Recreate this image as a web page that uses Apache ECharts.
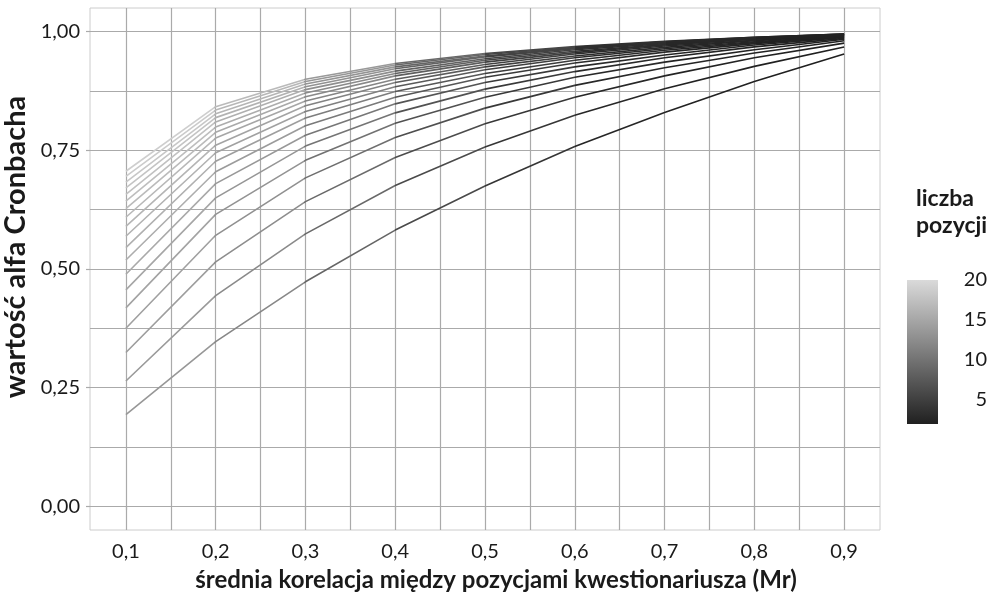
<!DOCTYPE html>
<html>
<head>
<meta charset="utf-8">
<script src="https://cdn.jsdelivr.net/npm/echarts@6/dist/echarts.min.js"></script>
<style>
  html, body { margin: 0; padding: 0; background: #fff; }
  #chart { width: 996px; height: 597px; }
</style>
</head>
<body>
<div id="chart"></div>
<script>
// srednia korelacja (Mr) na osi x
var korelacje = [0.1, 0.2, 0.3, 0.4, 0.5, 0.6, 0.7, 0.8, 0.9];
var liczbaPozycji = [2, 3, 4, 5, 6, 7, 8, 9, 10, 11, 12, 13, 14, 15, 16, 17, 18, 19, 20];

// wartosc alfa, jeden wiersz na liczbe pozycji
var alfa = [
  [0.193, 0.347, 0.473, 0.582, 0.675, 0.758, 0.830, 0.895, 0.953],
  [0.264, 0.444, 0.574, 0.676, 0.757, 0.824, 0.880, 0.927, 0.968],
  [0.324, 0.515, 0.642, 0.735, 0.806, 0.862, 0.907, 0.945, 0.976],
  [0.375, 0.571, 0.692, 0.777, 0.839, 0.887, 0.924, 0.955, 0.981],
  [0.418, 0.615, 0.729, 0.807, 0.862, 0.904, 0.936, 0.962, 0.984],
  [0.456, 0.650, 0.759, 0.829, 0.879, 0.916, 0.945, 0.968, 0.986],
  [0.489, 0.680, 0.782, 0.848, 0.893, 0.926, 0.951, 0.972, 0.988],
  [0.519, 0.705, 0.802, 0.862, 0.904, 0.934, 0.957, 0.975, 0.989],
  [0.545, 0.727, 0.818, 0.874, 0.912, 0.940, 0.961, 0.977, 0.990],
  [0.569, 0.745, 0.832, 0.884, 0.920, 0.945, 0.964, 0.979, 0.991],
  [0.590, 0.761, 0.844, 0.893, 0.926, 0.949, 0.967, 0.981, 0.992],
  [0.609, 0.776, 0.854, 0.900, 0.931, 0.953, 0.970, 0.982, 0.992],
  [0.627, 0.788, 0.863, 0.907, 0.936, 0.956, 0.972, 0.984, 0.993],
  [0.643, 0.799, 0.871, 0.912, 0.940, 0.959, 0.973, 0.985, 0.993],
  [0.657, 0.810, 0.878, 0.917, 0.943, 0.962, 0.975, 0.986, 0.994],
  [0.671, 0.819, 0.884, 0.922, 0.947, 0.964, 0.977, 0.986, 0.994],
  [0.683, 0.827, 0.890, 0.926, 0.949, 0.966, 0.978, 0.987, 0.995],
  [0.695, 0.835, 0.895, 0.930, 0.952, 0.967, 0.979, 0.988, 0.995],
  [0.706, 0.842, 0.900, 0.933, 0.954, 0.969, 0.980, 0.988, 0.995]
];

// wartosc skali kolorow dla kazdego odcinka linii (8 odcinkow)
var kolorOdcinka = [
  [13.5, 12.0, 8.8, 6.0, 4.0, 2.6, 2.2, 2.0],
  [13.8, 12.3, 9.1, 6.2, 4.1, 2.7, 2.2, 2.0],
  [14.1, 12.5, 9.3, 6.3, 4.2, 2.7, 2.3, 2.0],
  [14.4, 12.8, 9.6, 6.5, 4.3, 2.8, 2.3, 2.1],
  [14.7, 13.1, 9.9, 6.7, 4.4, 2.8, 2.3, 2.1],
  [15.0, 13.4, 10.2, 6.8, 4.4, 2.9, 2.4, 2.1],
  [15.3, 13.6, 10.4, 7.0, 4.5, 2.9, 2.4, 2.1],
  [15.6, 13.9, 10.7, 7.2, 4.6, 3.0, 2.4, 2.1],
  [15.9, 14.2, 11.0, 7.3, 4.7, 3.0, 2.5, 2.1],
  [16.1, 14.5, 11.3, 7.5, 4.8, 3.0, 2.5, 2.2],
  [16.4, 14.7, 11.5, 7.7, 4.9, 3.1, 2.5, 2.2],
  [16.7, 15.0, 11.8, 7.8, 5.0, 3.1, 2.6, 2.2],
  [17.0, 15.3, 12.1, 8.0, 5.1, 3.2, 2.6, 2.2],
  [17.3, 15.5, 12.3, 8.2, 5.2, 3.2, 2.6, 2.2],
  [17.6, 15.8, 12.6, 8.3, 5.2, 3.3, 2.7, 2.2],
  [17.9, 16.1, 12.9, 8.5, 5.3, 3.3, 2.7, 2.3],
  [18.2, 16.4, 13.2, 8.7, 5.4, 3.4, 2.7, 2.3],
  [18.5, 16.6, 13.4, 8.8, 5.5, 3.4, 2.8, 2.3],
  [18.8, 16.9, 13.7, 9.0, 5.6, 3.5, 2.8, 2.3]
];

var xTicks = [0.1, 0.2, 0.3, 0.4, 0.5, 0.6, 0.7, 0.8, 0.9];
var xMinor = [0.15, 0.25, 0.35, 0.45, 0.55, 0.65, 0.75, 0.85];
var yTicks = [0, 0.25, 0.5, 0.75, 1];
var yMinor = [0.125, 0.375, 0.625, 0.875];
var legendTicks = [5, 10, 15, 20];
var skalaMin = 2, skalaMax = 20;

var font = 'Lato';
var ciemny = [32, 32, 32], jasny = [218, 218, 218];

function szary(v) {
  var t = (v - skalaMin) / (skalaMax - skalaMin);
  t = Math.max(0, Math.min(1, t));
  var c = ciemny.map(function (d, i) { return Math.round(d + (jasny[i] - d) * t); });
  return 'rgb(' + c.join(',') + ')';
}

// kazdy odcinek ma staly kolor (jak w ggplot)
function gradientLinii(wartosci) {
  var stops = [];
  var n = wartosci.length;
  wartosci.forEach(function (v, j) {
    stops.push({ offset: j / n, color: szary(v) });
    stops.push({ offset: (j + 1) / n, color: szary(v) });
  });
  return { type: 'linear', x: 0, y: 0, x2: 1, y2: 0, colorStops: stops };
}

function przecinek(v, d) {
  return v.toFixed(d).replace('.', ',');
}

var series = liczbaPozycji.map(function (k, i) {
  return {
    name: 'k' + k,
    type: 'line',
    xAxisIndex: 0,
    yAxisIndex: 0,
    data: korelacje.map(function (r, j) { return [r, alfa[i][j]]; }),
    showSymbol: false,
    silent: true,
    lineStyle: { width: 1.6, color: gradientLinii(kolorOdcinka[i]) },
    z: 3
  };
});

// pasek legendy kolorow
series.push({
  type: 'bar', xAxisIndex: 2, yAxisIndex: 2, stack: 'cb', silent: true,
  data: [skalaMin], barWidth: '100%', itemStyle: { color: 'rgba(0,0,0,0)' }
});
series.push({
  type: 'bar', xAxisIndex: 2, yAxisIndex: 2, stack: 'cb', silent: true,
  data: [skalaMax - skalaMin], barWidth: '100%',
  itemStyle: {
    color: {
      type: 'linear', x: 0, y: 280, x2: 0, y2: 424, global: true,
      colorStops: [{ offset: 0, color: szary(skalaMax) }, { offset: 1, color: szary(skalaMin) }]
    }
  }
});

var chart = echarts.init(document.getElementById('chart'));

var option = {
  animation: false,
  backgroundColor: '#fff',
  textStyle: { fontFamily: font },
  title: {
    text: 'liczba\npozycji',
    left: 911,
    top: 180,
    textStyle: { fontFamily: font, fontWeight: 'bold', fontSize: 23, lineHeight: 27, color: '#1a1a1a' }
  },
  grid: [
    {
      left: 90, right: 116, top: 8, bottom: 67, outerBoundsMode: 'none',
      show: true, borderColor: '#cccccc', borderWidth: 1, backgroundColor: '#fff'
    },
    { left: 907, top: 280, width: 31, height: 144, outerBoundsMode: 'none' }
  ],
  xAxis: [
    {
      type: 'value', gridIndex: 0, min: 0.06, max: 0.94,
      axisLine: { show: false },
      axisTick: { show: false, customValues: xTicks.concat(xMinor) },
      axisLabel: { show: false },
      splitLine: { show: true, lineStyle: { color: '#aaaaaa', width: 1.2 } }
    },
    {
      type: 'value', gridIndex: 0, min: 0.06, max: 0.94, position: 'bottom',
      axisLine: { show: false },
      axisTick: { show: true, customValues: xTicks, length: 4, lineStyle: { color: '#aaaaaa', width: 1.2 } },
      axisLabel: {
        customValues: xTicks, margin: 12, fontSize: 20, color: '#1a1a1a', fontFamily: font,
        formatter: function (v) { return przecinek(v, 1); }
      },
      splitLine: { show: false },
      name: 'średnia korelacja między pozycjami kwestionariusza (Mr)',
      nameLocation: 'middle', nameGap: 38,
      nameTextStyle: {
        fontFamily: font, fontWeight: 'bold', fontSize: 24, color: '#1a1a1a',
        padding: [0, 0, 0, 22]
      }
    },
    { type: 'category', gridIndex: 1, data: [''], show: false }
  ],
  yAxis: [
    {
      type: 'value', gridIndex: 0, min: -0.05, max: 1.05,
      axisLine: { show: false },
      axisTick: { show: false, customValues: yTicks.concat(yMinor) },
      axisLabel: { show: false },
      splitLine: { show: true, lineStyle: { color: '#aaaaaa', width: 1.2 } }
    },
    {
      type: 'value', gridIndex: 0, min: -0.05, max: 1.05, position: 'left',
      axisLine: { show: false },
      axisTick: { show: true, customValues: yTicks, length: 4, lineStyle: { color: '#aaaaaa', width: 1.2 } },
      axisLabel: {
        customValues: yTicks, margin: 10, fontSize: 20, color: '#1a1a1a', fontFamily: font,
        formatter: function (v) { return przecinek(v, 2); }
      },
      splitLine: { show: false },
      name: 'wartość alfa Cronbacha',
      nameLocation: 'middle', nameGap: 56,
      nameTextStyle: {
        fontFamily: font, fontWeight: 'bold', fontSize: 29, color: '#1a1a1a',
        padding: [0, 0, 0, 44]
      }
    },
    {
      type: 'value', gridIndex: 1, min: skalaMin, max: skalaMax, position: 'left',
      axisLine: { show: false },
      axisTick: { show: true, inside: true, customValues: legendTicks, length: 5, lineStyle: { color: '#fff', width: 1.2 } },
      axisLabel: { show: false },
      splitLine: { show: false }
    },
    {
      type: 'value', gridIndex: 1, min: skalaMin, max: skalaMax, position: 'right',
      axisLine: { show: false },
      axisTick: { show: true, inside: true, customValues: legendTicks, length: 5, lineStyle: { color: '#fff', width: 1.2 } },
      axisLabel: { customValues: legendTicks, margin: 49, align: 'right', fontSize: 20, color: '#1a1a1a', fontFamily: font },
      splitLine: { show: false }
    }
  ],
  series: series
};

chart.setOption(option);
</script>
</body>
</html>
